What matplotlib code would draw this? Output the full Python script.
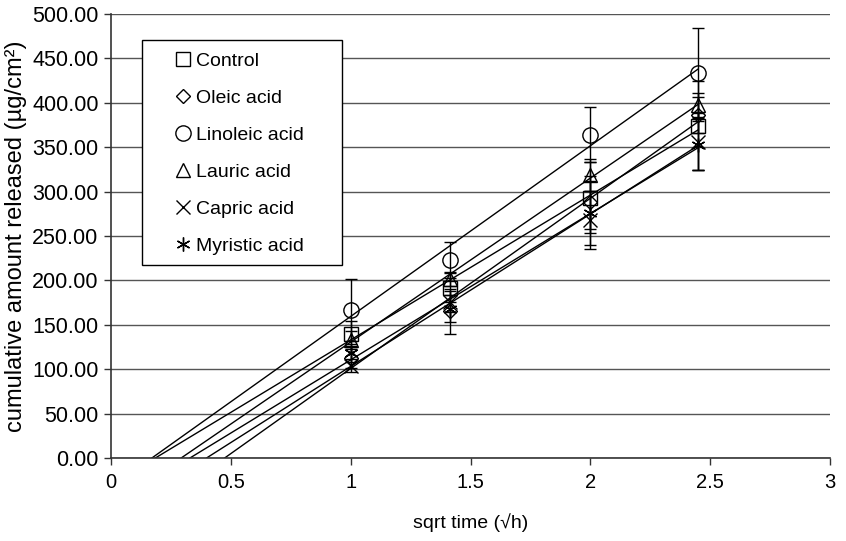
import numpy as np
import matplotlib
matplotlib.use("Agg")
import matplotlib.pyplot as plt
from matplotlib.patches import Rectangle

plt.rcParams['font.family'] = ['Liberation Sans', 'DejaVu Sans']

# sampling times (h), plotted against sqrt(t)
hours = [1, 2, 4, 6]

labels = ['Control', 'Oleic acid', 'Linoleic acid', 'Lauric acid', 'Capric acid', 'Myristic acid']
markers = ['s', 'D', 'o', '^', 'x', (6, 2, 0)]
msizes = [10, 7, 11, 10, 10, 10]

control = [140, 192, 293, 374]
oleic = [113, 165, 288, 386]
linoleic = [167, 223, 364, 434]
lauric = [133, 202, 319, 397]
capric = [104, 176, 268, 356]
myristic = [118, 168, 276, 352]

control_sd = [14, 16, 40, 50]
oleic_sd = [12, 25, 30, 20]
linoleic_sd = [35, 20, 31, 50]
lauric_sd = [10, 8, 18, 14]
capric_sd = [7, 12, 33, 32]
myristic_sd = [10, 15, 36, 28]

series = [control, oleic, linoleic, lauric, capric, myristic]
errors = [control_sd, oleic_sd, linoleic_sd, lauric_sd, capric_sd, myristic_sd]

x = np.sqrt(hours)

fig = plt.figure(figsize=(8.46, 5.41), dpi=100)
ax = fig.add_axes([111 / 846, 83 / 541, 719 / 846, 444 / 541])

handles = []
for y, err, mk, ms, lab in zip(series, errors, markers, msizes, labels):
    y = np.array(y, dtype=float)
    ax.errorbar(x, y, yerr=err, fmt='none', ecolor='black', elinewidth=1,
                capsize=4, capthick=1, zorder=3)
    h, = ax.plot(x, y, linestyle='none', marker=mk, ms=ms, mfc='none',
                 mec='black', mew=1, label=lab, zorder=4)
    handles.append(h)
    # linear trendline from x-intercept to the last point
    m, b = np.polyfit(x, y, 1)
    xs = np.array([-b / m, x[-1]])
    ax.plot(xs, m * xs + b, color='black', lw=1, zorder=2)

ax.set_xlim(0, 3)
ax.set_ylim(0, 500)
ax.set_xticks(np.arange(0, 3.01, 0.5))
ax.set_xticklabels(['0', '0.5', '1', '1.5', '2', '2.5', '3'])
ax.set_yticks(np.arange(0, 501, 50))
ax.set_yticklabels([f'{v:.2f}' for v in np.arange(0, 501, 50)])
ax.tick_params(axis='both', direction='out', length=5, width=1, color='#333333')
ax.tick_params(axis='y', pad=4, labelsize=15.5)
ax.tick_params(axis='x', pad=6, labelsize=14.5)

ax.grid(axis='y', color='#555555', lw=1)
ax.set_axisbelow(True)
for s in ['top', 'right']:
    ax.spines[s].set_visible(False)
for s in ['left', 'bottom']:
    ax.spines[s].set_color('#333333')
    ax.spines[s].set_linewidth(1.2)

ax.set_xlabel('sqrt time (\u221ah)', fontsize=14, labelpad=15)
ax.set_ylabel('cumulative amount released (\u00b5g/cm\u00b2)', fontsize=17)
ax.yaxis.set_label_coords(-0.117, 0.5)

# legend box
ax.add_patch(Rectangle((31 / 719, 193 / 444), 200 / 719, 225 / 444, transform=ax.transAxes,
                       facecolor='white', edgecolor='black', lw=1, zorder=5))
leg = ax.legend(handles=handles, loc='upper left', bbox_to_anchor=(62 / 719, 406 / 444),
                frameon=False, fontsize=14, handlelength=1.0, handletextpad=0.2,
                labelspacing=1.0, borderpad=0, borderaxespad=0)
leg.set_zorder(6)

fig.savefig('out.png', dpi=100)
